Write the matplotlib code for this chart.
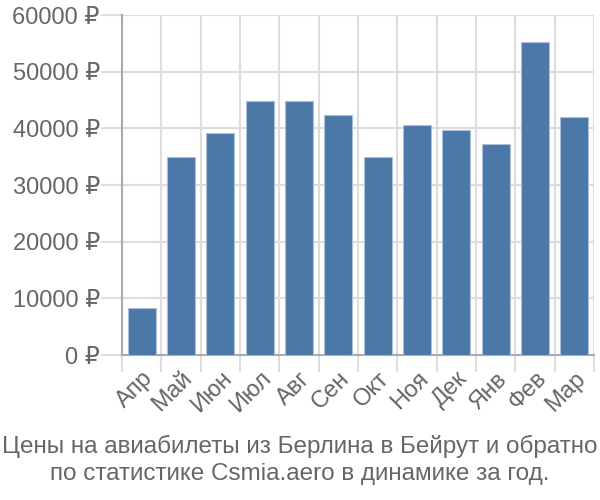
import matplotlib
matplotlib.use("Agg")
import matplotlib.pyplot as plt
from matplotlib.ticker import FixedLocator

months = ["Апр", "Май", "Июн", "Июл", "Авг", "Сен", "Окт", "Ноя", "Дек", "Янв", "Фев", "Мар"]
prices = [8300, 34900, 39150, 44800, 44800, 42300, 35000, 40550, 39650, 37150, 55150, 42050]
yticks = [0, 10000, 20000, 30000, 40000, 50000, 60000]
ytick_labels = [f"{v} ₽" for v in yticks]
title = "Цены на авиабилеты из Берлина в Бейрут и обратно\nпо статистике Csmia.aero в динамике за год."

plt.rcParams['font.family'] = ['Liberation Sans', 'DejaVu Sans']
txt = "#666666"
grid = "#dddddd"

fig = plt.figure(figsize=(6, 5), dpi=100)
ax = fig.add_axes([122/600, 1-355/500, (594-122)/600, (355-15)/500])

x = list(range(len(months)))
ax.bar(x, prices, width=0.72, color="#4c78a8", edgecolor="#a9c0da", linewidth=0.8, zorder=3)

ax.set_xlim(-0.5, len(months) - 0.5)
ax.set_ylim(0, 60000)
ax.set_yticks(yticks)
ax.set_yticklabels(ytick_labels)
ax.set_xticks(x)
ax.set_xticklabels(months, rotation=45, ha="right", va="top", rotation_mode="anchor")
ax.xaxis.set_minor_locator(FixedLocator([i - 0.5 for i in range(len(months) + 1)]))

ax.tick_params(axis="x", which="major", length=0, pad=9, labelsize=17, labelcolor=txt)
ax.tick_params(axis="x", which="minor", length=12, width=1.5, color=grid)
ax.tick_params(axis="y", which="major", length=15, width=1.5, color=grid, labelsize=17, labelcolor=txt, pad=1)

ax.grid(True, axis="y", which="major", color=grid, linewidth=1.5, zorder=0)
ax.grid(True, axis="x", which="minor", color=grid, linewidth=1.5, zorder=0)
ax.grid(False, axis="x", which="major")

for s in ["top", "right"]:
    ax.spines[s].set_visible(False)
for s in ["left", "bottom"]:
    ax.spines[s].set_color("#aaaaaa")
    ax.spines[s].set_linewidth(1.5)

fig.text(0.5, 1 - 460/500, title, ha="center", va="center", fontsize=17.5, color=txt, linespacing=1.25)

fig.savefig("out.png", dpi=100)
